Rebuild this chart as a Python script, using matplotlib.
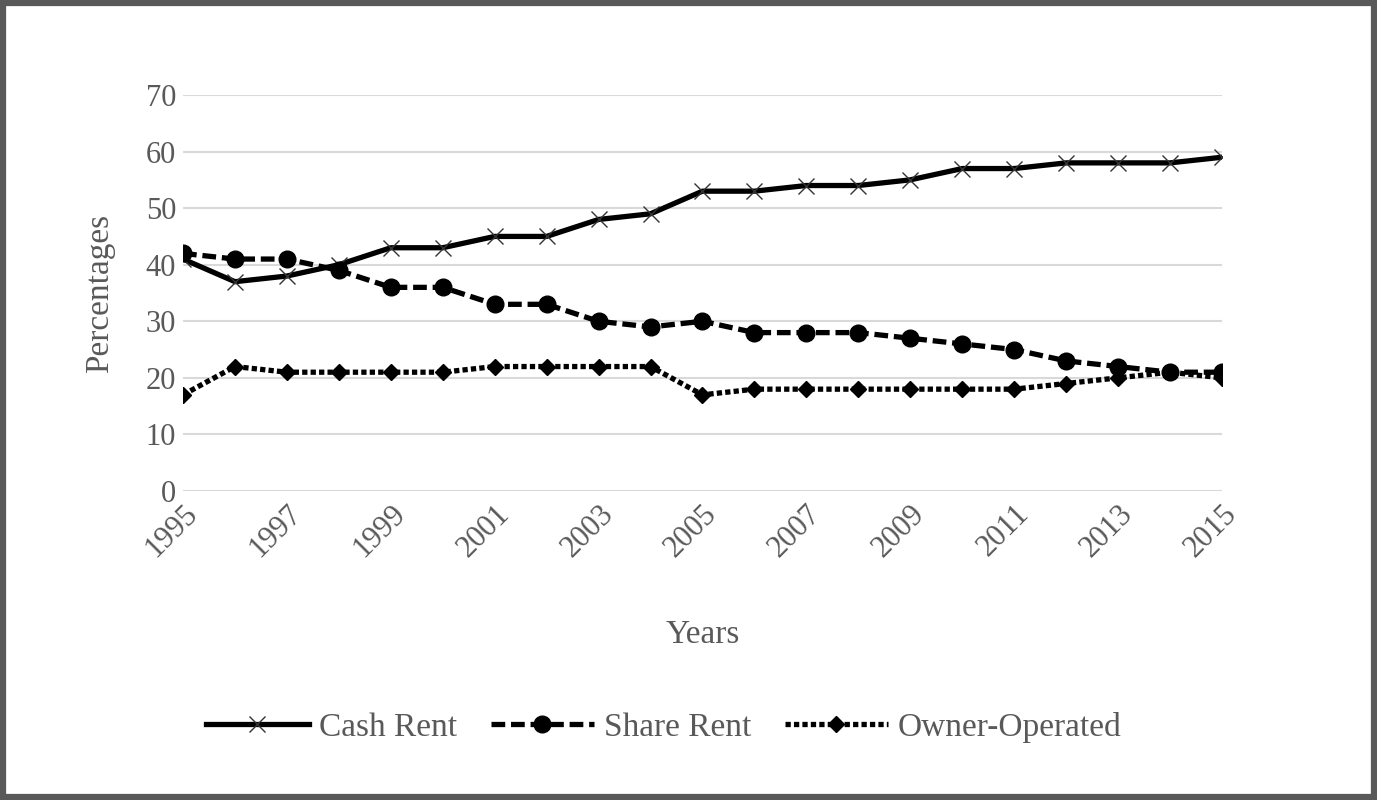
import matplotlib.pyplot as plt
from matplotlib.patches import Rectangle

# data
years = list(range(1995, 2016))
cash_rent = [41, 37, 38, 40, 43, 43, 45, 45, 48, 49, 53, 53, 54, 54, 55, 57, 57, 58, 58, 58, 59]
share_rent = [42, 41, 41, 39, 36, 36, 33, 33, 30, 29, 30, 28, 28, 28, 27, 26, 25, 23, 22, 21, 21]
owner_operated = [17, 22, 21, 21, 21, 21, 22, 22, 22, 22, 17, 18, 18, 18, 18, 18, 18, 19, 20, 21, 20]

y_ticks = [0, 10, 20, 30, 40, 50, 60, 70]
x_ticks = list(range(1995, 2016, 2))

plt.rcParams['font.family'] = ['Liberation Serif', 'DejaVu Serif']
text_color = "#595959"

fig = plt.figure(figsize=(13.77, 8), dpi=100)
ax = fig.add_axes([0.1329, 0.38625, 0.7545, 0.495])

ax.plot(years, cash_rent, color="black", lw=3.8, linestyle="-",
        marker="x", markersize=12, markeredgewidth=1.0, markeredgecolor="#333333",
        label="Cash Rent", zorder=3)
ax.plot(years, share_rent, color="black", lw=3.8, linestyle=(0, (2.6, 1.1)),
        marker="o", markersize=12, label="Share Rent", zorder=3)
ax.plot(years, owner_operated, color="black", lw=3.8, linestyle=(0, (1, 0.6)),
        marker="D", markersize=8.5, label="Owner-Operated", zorder=3)

ax.set_xlim(1995, 2015)
ax.set_ylim(0, 70)
ax.set_yticks(y_ticks)
ax.set_xticks(x_ticks)
ax.set_xticklabels([str(y) for y in x_ticks], rotation=45, ha="right",
                   rotation_mode="anchor")
ax.tick_params(axis="both", length=0, labelsize=22, colors=text_color)
ax.tick_params(axis="x", pad=6)
ax.tick_params(axis="y", pad=5)
ax.grid(axis="y", color="#d9d9d9", lw=1.5)
ax.set_axisbelow(True)
for s in ax.spines.values():
    s.set_visible(False)

ax.set_ylabel("Percentages", fontsize=24, color=text_color, labelpad=22)
ax.set_xlabel("Years", fontsize=24, color=text_color, labelpad=41)

fig.legend(loc="center", bbox_to_anchor=(0.482, 0.091), ncol=3, frameon=False,
           fontsize=24, handlelength=3.1, columnspacing=1.0, handletextpad=0.3,
           labelcolor=text_color)

# outer frame
fig.patches.append(Rectangle((0.0025, 0.004), 0.995, 0.992, transform=fig.transFigure,
                             fill=False, edgecolor="#595959", lw=4.5))

fig.savefig("out.png", dpi=100)
